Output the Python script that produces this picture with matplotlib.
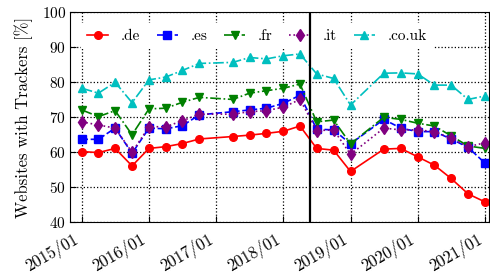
import datetime
import matplotlib
matplotlib.use('Agg')
import matplotlib.pyplot as plt
import matplotlib.dates as mdates

plt.rcParams['font.family'] = 'cmr10'
plt.rcParams['axes.formatter.use_mathtext'] = True
plt.rcParams['mathtext.fontset'] = 'cm'

# quarterly snapshots (2017/01 and 2019/04 missing)
months = ['2015/01', '2015/04', '2015/07', '2015/10',
          '2016/01', '2016/04', '2016/07', '2016/10',
          '2017/04', '2017/07', '2017/10',
          '2018/01', '2018/04', '2018/07', '2018/10',
          '2019/01', '2019/07', '2019/10',
          '2020/01', '2020/04', '2020/07', '2020/10',
          '2021/01']

de = [60.2, 59.9, 61.1, 56.1, 61.1, 61.6, 62.5, 63.8, 64.5, 64.9, 65.4,
      66.0, 67.5, 61.1, 60.6, 54.5, 60.9, 61.1, 58.7, 56.3, 52.5, 48.1, 45.8]
es = [63.7, 63.7, 66.9, 59.7, 66.9, 66.7, 67.6, 70.7, 71.6, 72.1, 72.6,
      74.0, 76.3, 66.6, 66.4, 62.4, 69.4, 66.9, 65.9, 65.9, 63.8, 61.4, 56.9]
fr = [72.1, 70.2, 71.9, 65.0, 72.4, 72.6, 74.3, 75.7, 75.1, 76.9, 77.6,
      78.3, 79.5, 68.7, 69.2, 62.4, 70.0, 69.4, 68.3, 67.5, 64.7, 61.8, 61.1]
it = [68.7, 67.8, 66.9, 60.0, 67.3, 67.3, 69.0, 70.9, 70.9, 71.6, 71.9,
      72.9, 75.1, 66.2, 66.4, 59.4, 66.9, 66.4, 66.4, 65.9, 64.0, 61.6, 62.7]
couk = [78.3, 76.9, 80.0, 74.2, 80.7, 81.5, 83.4, 85.4, 85.7, 87.1, 86.7,
        87.6, 88.1, 82.4, 81.1, 73.5, 82.6, 82.7, 82.4, 79.2, 79.2, 75.1, 76.1]

gdpr = datetime.datetime(2018, 5, 25)

x = [datetime.datetime.strptime(m, '%Y/%m') for m in months]

fig = plt.figure(figsize=(4.9, 2.75), dpi=100)
ax = fig.add_axes([0.143, 0.192, 0.855, 0.763])

ms = 5.5
lw = 1.2
ax.plot(x, de, 'r-', marker='o', ms=ms, lw=lw, label='.de')
ax.plot(x, es, 'b--', marker='s', ms=ms, lw=lw, label='.es')
ax.plot(x, fr, color='g', ls='-.', marker='v', ms=ms + 0.5, lw=lw, label='.fr')
ax.plot(x, it, color='purple', ls=':', marker='d', ms=ms + 0.5, lw=lw, label='.it')
ax.plot(x, couk, color='c', ls='-.', marker='^', ms=ms + 0.5, lw=lw, label='.co.uk')

ax.axvline(gdpr, color='k', lw=1.6, zorder=6)

ax.set_ylim(40, 100)
ax.set_yticks(range(40, 101, 10))
ax.set_xlim(datetime.datetime(2014, 10, 29), datetime.datetime(2021, 1, 23))
ax.xaxis.set_major_locator(mdates.YearLocator())
ax.xaxis.set_major_formatter(mdates.DateFormatter('%Y/%m'))
plt.setp(ax.get_xticklabels(), rotation=30, ha='right')

ax.tick_params(direction='in', labelsize=11, length=4)
ax.tick_params(axis='x', labelsize=12, pad=6)
ax.tick_params(axis='y', pad=3)
ax.grid(True, color='k', ls=':', lw=0.9)
ax.set_ylabel('Websites with Trackers [%]', fontsize=12, labelpad=6)

leg = ax.legend(ncol=5, loc='upper left', fontsize=11, frameon=True,
                framealpha=1, edgecolor='none', fancybox=False,
                handlelength=1.4, handletextpad=0.8, columnspacing=1.1,
                borderaxespad=0.7)
leg.get_frame().set_linewidth(0)

plt.savefig('out.png')
